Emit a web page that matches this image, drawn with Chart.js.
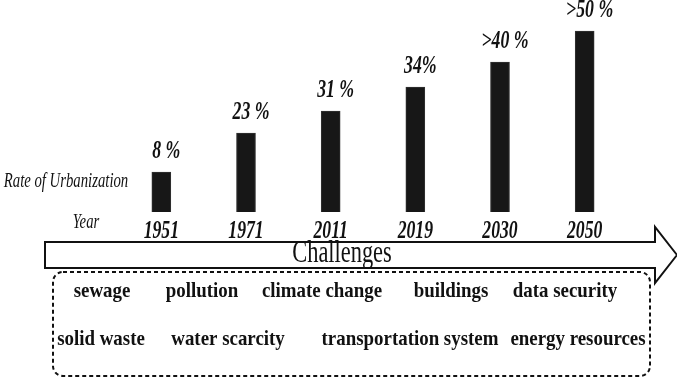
<!DOCTYPE html>
<html>
<head>
<meta charset="utf-8">
<script src="https://cdn.jsdelivr.net/npm/chart.js@4.4.1/dist/chart.umd.min.js"></script>
<style>
  body { margin: 0; background: #fff; }
</style>
</head>
<body>
<canvas id="chart" width="677" height="378"></canvas>
<script>
// values (bar heights are the schematic heights, not %)
const years = ['1951', '1971', '2011', '2019', '2030', '2050'];
const barHeights = [40, 79, 101, 125, 150, 181];
const rateLabels = ['8 %', '23 %', '31 %', '34%', '>40 %', '>50 %'];
const challengesTop = ['sewage', 'pollution', 'climate change', 'buildings', 'data security'];
const challengesBottom = ['solid waste', 'water scarcity', 'transportation system', 'energy resources'];

const SERIF = '"Liberation Serif", "Times New Roman", serif';

// text drawn on its baseline, squeezed horizontally like the original
function txt(ctx, s, x, y, font, sx) {
    ctx.save();
    ctx.font = font;
    ctx.translate(x, y);
    ctx.scale(sx, 1);
    ctx.textAlign = 'center';
    ctx.textBaseline = 'alphabetic';
    ctx.fillStyle = '#111';
    ctx.fillText(s, 0, 0);
    ctx.restore();
}

const overlay = {
    id: 'overlay',
    afterDatasetsDraw(chart) {
        const ctx = chart.ctx;
        const xs = chart.scales.x;
        const bars = chart.getDatasetMeta(0).data;

        bars.forEach((bar, i) => {
            txt(ctx, rateLabels[i], bar.x + 5, bar.y - 14, 'italic bold 25px ' + SERIF, 0.71);
            txt(ctx, years[i], xs.getPixelForValue(i), 238, 'italic bold 26px ' + SERIF, 0.68);
        });

        txt(ctx, 'Rate of Urbanization', 66, 187, 'italic 22px ' + SERIF, 0.67);
        txt(ctx, 'Year', 86, 228, 'italic 21px ' + SERIF, 0.7);

        // arrow
        ctx.save();
        ctx.beginPath();
        ctx.moveTo(45, 242);
        ctx.lineTo(655, 242);
        ctx.lineTo(655, 227);
        ctx.lineTo(677, 255);
        ctx.lineTo(655, 283);
        ctx.lineTo(655, 268);
        ctx.lineTo(45, 268);
        ctx.closePath();
        ctx.fillStyle = '#fff';
        ctx.fill();
        ctx.lineWidth = 2;
        ctx.strokeStyle = '#111';
        ctx.stroke();

        // dashed box
        ctx.beginPath();
        ctx.setLineDash([4, 3]);
        ctx.roundRect(53, 272, 597, 104, 10);
        ctx.stroke();
        ctx.restore();

        txt(ctx, 'Challenges', 342, 262, '32px ' + SERIF, 0.7);

        const topX = [102, 202, 322, 451, 565];
        const botX = [101, 228, 410, 578];
        challengesTop.forEach((s, i) => txt(ctx, s, topX[i], 297, 'bold 21px ' + SERIF, 0.9));
        challengesBottom.forEach((s, i) => txt(ctx, s, botX[i], 345, 'bold 21px ' + SERIF, 0.9));
    }
};

new Chart(document.getElementById('chart'), {
    type: 'bar',
    data: {
        labels: years,
        datasets: [{
            data: barHeights,
            backgroundColor: '#171717',
            borderColor: '#333',
            borderWidth: 1,
            barThickness: 19
        }]
    },
    options: {
        responsive: false,
        animation: false,
        layout: { padding: { left: 119, right: 50, top: 12, bottom: 166 } },
        plugins: { legend: { display: false }, tooltip: { enabled: false } },
        scales: {
            x: { display: false },
            y: { display: false, min: 0, max: 200 }
        }
    },
    plugins: [overlay]
});
</script>
</body>
</html>
